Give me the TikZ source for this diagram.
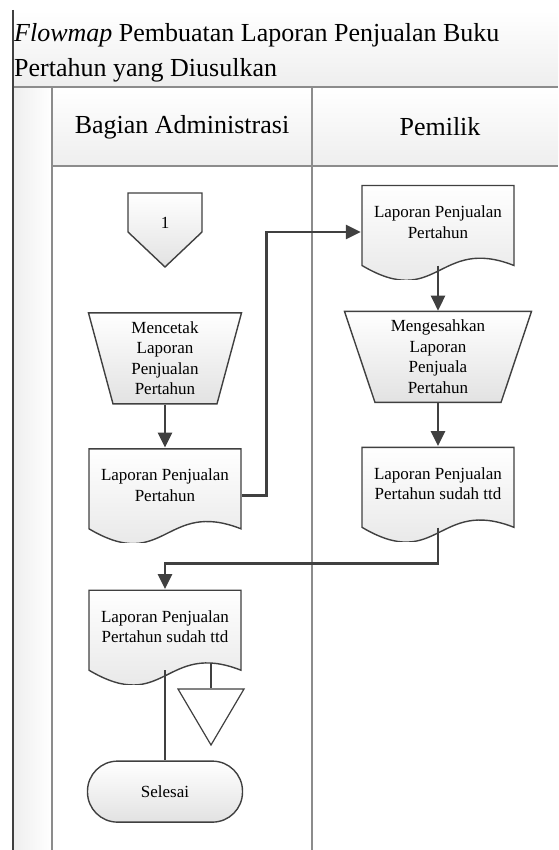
\documentclass[tikz,border=0pt]{standalone}
\usepackage{fontspec}
\setmainfont{Liberation Serif}
\usetikzlibrary{shapes.geometric,arrows.meta,positioning,calc}
\definecolor{garis}{RGB}{64,64,64}
\definecolor{lajurwarna}{RGB}{140,140,140}
\definecolor{isi}{RGB}{226,226,226}
\definecolor{latar}{RGB}{238,238,238}

\begin{document}
\begin{tikzpicture}[
    x=1pt, y=1pt,
    every node/.style={font=\fontsize{17}{20.5}\selectfont},
    judul/.style={font=\fontsize{26}{35}\selectfont, align=left, inner sep=0pt},
    kepala/.style={font=\fontsize{26}{30}\selectfont},
    garisbentuk/.style={draw=garis, line width=1.4pt},
    dokumen/.style={minimum width=154pt, minimum height=95pt, inner sep=2pt, align=center, text depth=20pt,
        path picture={
            \shadedraw[garisbentuk, top color=white, bottom color=isi]
                ([shift={(1pt,-1pt)}]path picture bounding box.north west)
                -- ([shift={(-1pt,-1pt)}]path picture bounding box.north east)
                -- ([shift={(-1pt,14pt)}]path picture bounding box.south east)
                .. controls ([yshift=44pt]path picture bounding box.south)
                and ([yshift=-31pt]path picture bounding box.south)
                .. ([shift={(1pt,14pt)}]path picture bounding box.south west) -- cycle;
        }},
    proses/.style={trapezium, trapezium stretches body, shape border rotate=180, minimum height=91pt,
        inner sep=1pt, align=center, garisbentuk, top color=white, bottom color=isi},
    konektor/.style={minimum width=76pt, minimum height=76pt, text depth=14pt,
        path picture={
            \shadedraw[garisbentuk, top color=white, bottom color=isi]
                ([shift={(1pt,-1pt)}]path picture bounding box.north west)
                -- ([shift={(-1pt,-1pt)}]path picture bounding box.north east)
                -- ([shift={(-1pt,-40pt)}]path picture bounding box.north east)
                -- ([yshift=1pt]path picture bounding box.south)
                -- ([shift={(1pt,-40pt)}]path picture bounding box.north west) -- cycle;
        }},
    arsip/.style={minimum width=68pt, minimum height=58pt,
        path picture={
            \draw[garisbentuk, line width=1.2pt, fill=white]
                ([shift={(1pt,-1pt)}]path picture bounding box.north west)
                -- ([shift={(-1pt,-1pt)}]path picture bounding box.north east)
                -- ([yshift=1pt]path picture bounding box.south) -- cycle;
        }},
    terminal/.style={rectangle, rounded corners=30pt, minimum width=155pt, minimum height=61pt,
        garisbentuk, top color=white, bottom color=isi},
    panah/.style={-{Triangle[length=15pt,width=14pt]}, draw=garis, line width=2.6pt},
    alur/.style={draw=garis, line width=2.6pt},
    alurtipis/.style={draw=garis, line width=1.4pt},
    lajur/.style={draw=lajurwarna, line width=1.2pt}
]
\useasboundingbox (0,0) rectangle (558,-850);

% swimlane frame
\fill[top color=white, bottom color=latar] (12,-10) rectangle (558,-87);
\fill[left color=latar, right color=white] (12,-87) rectangle (52,-850);
\fill[top color=white, bottom color=latar] (52,-87) rectangle (558,-166);
\draw[lajur] (12,-87) -- (558,-87);
\draw[lajur] (52,-166) -- (558,-166);
\draw[lajur] (52,-87) -- (52,-850);
\draw[lajur] (312,-87) -- (312,-850);
\draw[draw=garis, line width=1.6pt] (12.7,-10) -- (12.7,-850);

\node[judul, anchor=base west] (judul) at (14,-77) {\textit{Flowmap} Pembuatan Laporan Penjualan Buku\\Pertahun yang Diusulkan};
\node[kepala] (admin) at (182,-127) {Bagian Administrasi};
\node[kepala] (pemilik) at (440,-127) {Pemilik};

% Bagian Administrasi
\node[konektor] (hal1) at (165,-230) {1};
\node[proses, trapezium left angle=72, trapezium right angle=72, minimum width=153pt, below=44pt of hal1] (cetak) {Mencetak\\Laporan\\Penjualan\\Pertahun};
\node[dokumen, below=43pt of cetak] (lapA) {Laporan Penjualan\\Pertahun};
\node[dokumen, below=46pt of lapA] (lapT) {Laporan Penjualan\\Pertahun sudah ttd};
\node[arsip] (arsip) at (211,-717) {};
\node[terminal, below=76pt of lapT] (akhir) {Selesai};

% Pemilik
\node[dokumen] (lapP) at (438,-232) {Laporan Penjualan\\Pertahun};
\node[proses, trapezium left angle=68, trapezium right angle=68, minimum width=187pt, below=31pt of lapP] (sah) {Mengesahkan\\Laporan\\Penjuala\\Pertahun};
\node[dokumen, below=43pt of sah] (lapS) {Laporan Penjualan\\Pertahun sudah ttd};

% arrows
\draw[panah] (cetak.south) -- (lapA.north);
\draw[panah] (lapA.east) -- ++(24,0) |- (lapP.west);
\draw[panah, shorten <=-14pt] (lapP.south) -- (sah.north);
\draw[panah] (sah.south) -- (lapS.north);
\draw[panah, shorten <=-14pt] (lapS.south) -- ++(0,-22) -| (lapT.north);
\draw[alur, shorten <=-14pt] (lapT.south) -- (akhir.north);
\draw[alurtipis, shorten >=-21pt] (arsip.north) -- (arsip.north |- lapT.south);

\end{tikzpicture}
\end{document}
